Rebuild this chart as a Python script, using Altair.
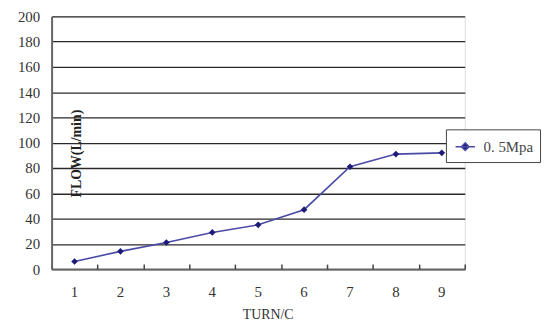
import altair as alt
import pandas as pd

turns = [1, 2, 3, 4, 5, 6, 7, 8, 9]
flow = [6, 14, 21, 29, 35, 47, 81, 91, 92]
series = ["0. 5Mpa"] * len(turns)
y_ticks = [0, 20, 40, 60, 80, 100, 120, 140, 160, 180, 200]

df = pd.DataFrame({"turn": turns, "flow": flow, "series": series})

FONT = "Liberation Serif"
LINE = "#4a4aa6"
MARK = "#1c1c78"

x_main = alt.X(
    "turn:O",
    scale=alt.Scale(paddingInner=0, paddingOuter=0),
    axis=alt.Axis(
        title="TURN/C", labelAngle=0, ticks=False, labelPadding=16,
        labelFont=FONT, labelFontSize=15, labelColor="#333",
        titleFont=FONT, titleFontSize=14, titleFontWeight="normal",
        titleColor="#333", titlePadding=8, titleX=218,
        domainColor="#666", domainWidth=2,
    ),
)

y_axis = alt.Axis(
    values=y_ticks, title="FLOW(L/min)", ticks=False, labelOverlap=False,
    labelFont=FONT, labelFontSize=15, labelColor="#333", labelPadding=12,
    titleFont=FONT, titleFontSize=14, titleFontWeight="bold",
    titleColor="#222", titleX=25, titleY=138, titleAngle=-90,
    titleAlign="center", titleBaseline="middle",
    gridColor="#2a2a2a", gridWidth=1.3, gridOpacity=1,
    domainColor="#666", domainWidth=2,
)
y_scale = alt.Scale(domain=[0, 200])

legend = alt.Legend(
    title=None, orient="none", legendX=398, legendY=114,
    symbolType="M-1,0L1,0M0,-0.4L0.4,0L0,0.4L-0.4,0Z",
    symbolSize=380, symbolStrokeWidth=1.5, symbolFillColor=MARK,
    symbolStrokeColor=LINE, labelFont=FONT, labelFontSize=15,
    labelColor="#444", fillColor="white", strokeColor="#444",
    padding=7, symbolOffset=2, labelOffset=8, offset=0,
)

line = alt.Chart(df).mark_line(color=LINE, strokeWidth=1.6).encode(
    x=x_main,
    y=alt.Y("flow:Q", scale=y_scale, axis=y_axis),
    color=alt.Color("series:N", scale=alt.Scale(range=[LINE]), legend=legend),
)

points = alt.Chart(df).mark_point(
    shape="diamond", filled=True, size=45, color=MARK, opacity=1
).encode(
    x=alt.X("turn:O", axis=None),
    y=alt.Y("flow:Q", scale=y_scale, axis=y_axis),
)

ticks_layer = alt.Chart(df).mark_point(opacity=0).encode(
    x=alt.X(
        "turn:O",
        axis=alt.Axis(
            orient="bottom", labels=False, title=None, domain=False,
            tickBand="extent", tickSize=5, tickColor="#444", tickWidth=1.5,
            offset=-5, grid=False,
        ),
    ),
    y=alt.Y("flow:Q", scale=y_scale, axis=y_axis),
)

chart = (
    alt.layer(line, points, ticks_layer)
    .resolve_axis(x="independent")
    .properties(
        width=417, height=255,
        autosize=alt.AutoSizeParams(type="none"),
        padding={"left": 44, "top": 7, "right": 80, "bottom": 58},
    )
    .configure_view(stroke="#777", strokeWidth=1.5)
    .configure(background="white")
)

chart.save("out.html", embed_options={"renderer": "svg", "actions": False})
